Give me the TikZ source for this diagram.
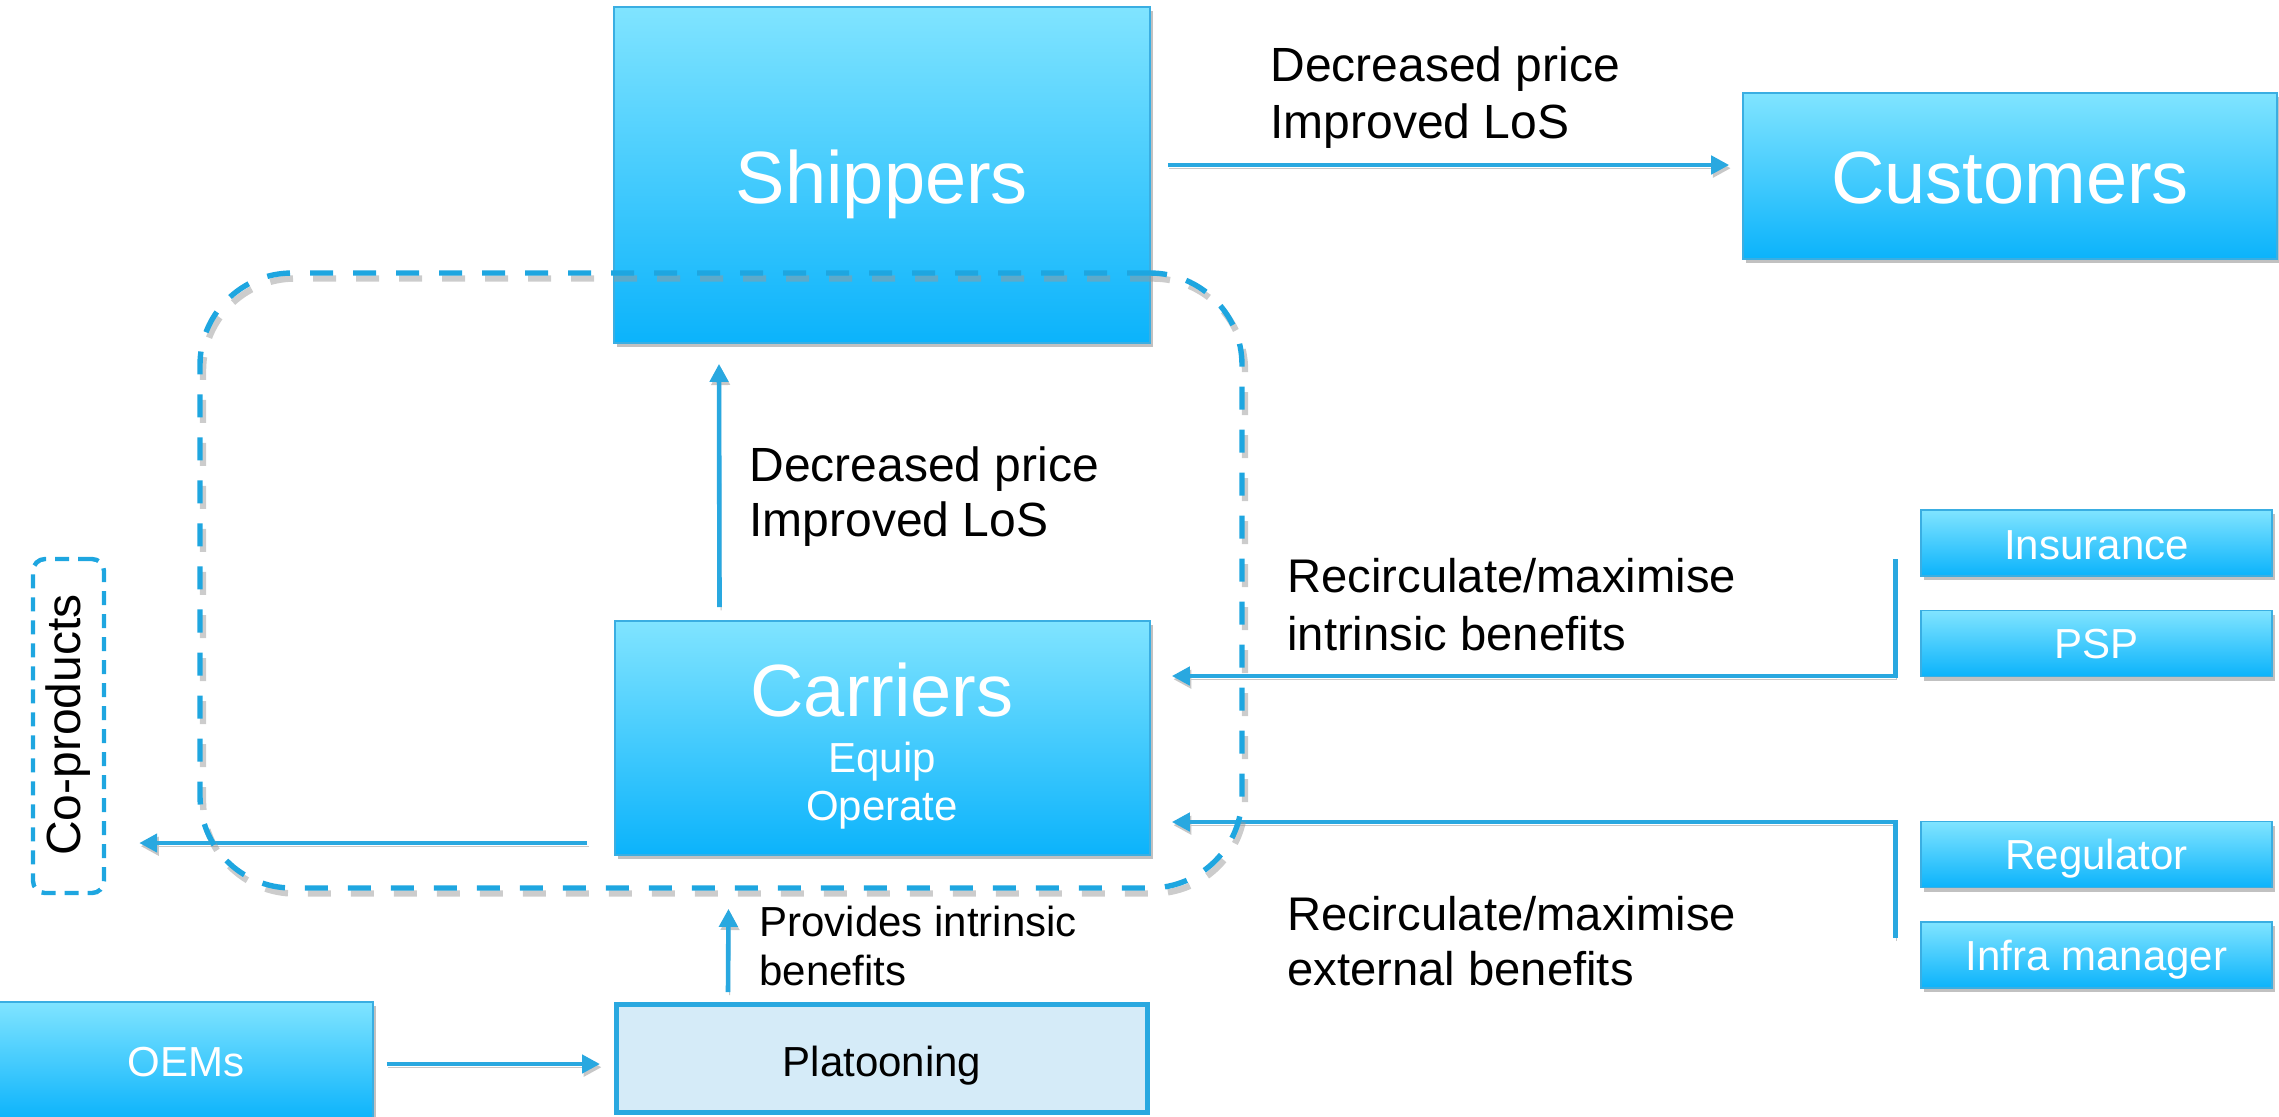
\documentclass[tikz,border=0pt]{standalone}
\usepackage{fontspec}
\setmainfont{Liberation Sans}
\usetikzlibrary{shadows,arrows.meta,calc}
\definecolor{btop}{HTML}{80E4FF}
\definecolor{bbot}{HTML}{0BB3FB}
\definecolor{bline}{HTML}{3AAEE2}
\definecolor{arrc}{HTML}{29A8E0}
\definecolor{dashc}{HTML}{1EA6E0}
\definecolor{platfill}{HTML}{D5EBF8}
\newcommand\myfs[2]{\fontsize{#1}{#2}\selectfont}
\begin{document}
\begin{tikzpicture}[x=0.5pt,y=-0.5pt,
  gbox/.style={draw=bline, line width=0.8pt, top color=btop, bottom color=bbot,
    text=white, inner sep=0pt,
    drop shadow={shadow xshift=1.5pt,shadow yshift=-2pt,opacity=0.35,fill=black!70}},
  arr/.style={draw=arrc, line width=2.3pt, -{Triangle[length=9pt,width=9pt]},
    preaction={draw=black!22, transform canvas={shift={(0.8pt,-1.6pt)}}}},
  lbl/.style={inner sep=0pt, align=left, anchor=west, text=black},
  wtxt/.style={text=white, inner sep=0pt, anchor=base},
  grpbox/.style={draw=dashc, line width=2.7pt, dash pattern=on 11.5pt off 10pt,
    rounded corners=46pt, inner sep=0pt},
  bigfont/.style={font=\myfs{37pt}{44pt}},
  midfont/.style={font=\myfs{21pt}{25pt}}
]
\useasboundingbox (0,0) rectangle (2279,1116);

% boxes
\node[gbox, minimum width=268pt, minimum height=168pt] (ship) at (882,175) {};
\node[wtxt, bigfont] (shipt) at (882,203) {Shippers};
\node[gbox, minimum width=267pt, minimum height=83pt] (cust) at (2010,176) {};
\node[wtxt, bigfont] (custt) at (2010,203) {Customers};
\node[gbox, minimum width=267.5pt, minimum height=117pt] (carr) at (882.5,738) {};
\node[wtxt, bigfont] (carrt) at (882,716) {Carriers};
\node[wtxt, midfont] (equip) at (882,772) {Equip};
\node[wtxt, midfont] (oper) at (882,820) {Operate};

\node[draw=arrc, line width=2.5pt, fill=platfill,
      minimum width=265.5pt, minimum height=54pt] (plat) at (882,1058.5) {};
\node[wtxt, midfont, text=black] (platt) at (882,1076) {Platooning};
\node[gbox, minimum width=189pt, minimum height=59pt] (oem) at (184,1061) {};
\node[wtxt, midfont] (oemt) at (186,1076) {OEMs};

\node[gbox, minimum width=175.5pt, minimum height=33pt] (ins) at (2096.5,543) {};
\node[wtxt, midfont] (inst) at (2096.5,559) {Insurance};
\node[gbox, minimum width=175.5pt, minimum height=33pt] (psp) at (2096.5,643.5) {};
\node[wtxt, midfont] (pspt) at (2096.5,658) {PSP};
\node[gbox, minimum width=175.5pt, minimum height=33pt] (reg) at (2096.5,854.5) {};
\node[wtxt, midfont] (regt) at (2096.5,869) {Regulator};
\node[gbox, minimum width=175.5pt, minimum height=33pt] (infra) at (2096.5,955) {};
\node[wtxt, midfont] (infrat) at (2096.5,970) {Infra manager};

% co-products
\node[draw=dashc, line width=2.2pt, dash pattern=on 7pt off 4.5pt, rounded corners=6pt,
      minimum width=35.5pt, minimum height=167pt, inner sep=0pt] (cop) at (68.5,726) {};
\node[rotate=90, font=\myfs{24pt}{28pt}, inner sep=0pt] (copt) at (68,725) {Co-products};

% arrows
\draw[arr] ($(ship.east)+(17,-10)$) -- ($(cust.west)+(-13,-11)$);
\draw[arr] ($(carr.north)+(-163,-13)$) -- ($(ship.south)+(-163,20)$);
\draw[arr] ($(plat.north)+(-154,-10)$) -- ($(carr.south)+(-154,53)$);
\draw[arr] ($(carr.west)+(-27,105)$) -- ($(cop.east)+(33,117)$);
\draw[arr] ($(oem.east)+(13,3)$) -- ($(plat.west)+(-14,5.5)$);

\coordinate (b1) at ($(ins.west)+(-25,16)$);
\coordinate (b2) at ($(infra.west)+(-25,-17)$);
\draw[arr] (b1) |- ($(carr.east)+(21,-62)$);
\draw[arr] (b2) |- ($(carr.east)+(21,84)$);

% labels
\node[lbl, font=\myfs{24pt}{28.5pt}] (l1) at (1270,98) {Decreased price\\Improved LoS};
\node[lbl, font=\myfs{24pt}{27.5pt}] (l2) at (749,497) {Decreased price\\Improved LoS};
\node[lbl, font=\myfs{23.6pt}{29pt}] (l3) at (1287,605) {Recirculate/maximise\\intrinsic benefits};
\node[lbl, font=\myfs{23.6pt}{27.5pt}] (l4) at (1287,941.5) {Recirculate/maximise\\external benefits};
\node[lbl, font=\myfs{21pt}{24.5pt}] (l5) at (759,945.5) {Provides intrinsic\\benefits};

% dashed group with shadow
\node[grpbox, draw=black!40, opacity=0.5, line width=3.2pt, minimum width=521pt, minimum height=307.5pt] (grpsh) at (724,586) {};
\node[grpbox, minimum width=521pt, minimum height=307.5pt] (grp) at (721,580.5) {};
\end{tikzpicture}
\end{document}
